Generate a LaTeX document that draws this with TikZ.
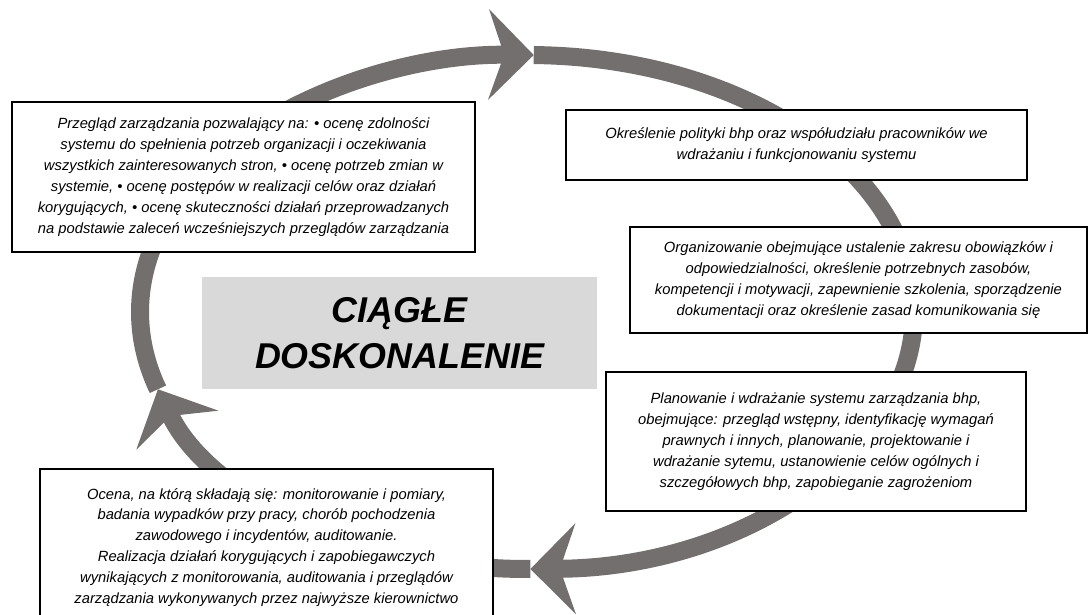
\documentclass[tikz,border=0pt]{standalone}
\usepackage{fontspec}
\setmainfont{Liberation Sans}
\usetikzlibrary{arrows.meta}
\definecolor{cyclegray}{RGB}{115, 111, 111}
\definecolor{hubgray}{RGB}{217, 217, 217}

\begin{document}
\begin{tikzpicture}[x=0.025cm, y=-0.025cm,
  cycleline/.style={draw=cyclegray, line width=12.8pt},
  cyclehead/.style={-{Stealth[length=32pt, width=64pt, inset=11pt]}},
  stagebox/.style={draw, fill=white, line width=1.6pt, align=center, inner sep=0pt,
    font=\itshape\fontsize{10.5}{14.9}\selectfont},
  hubbox/.style={fill=hubgray, align=center, inner sep=0pt,
    font=\bfseries\itshape\fontsize{25.5}{33}\selectfont}]

  \useasboundingbox (0, 0) rectangle (1088, 615);
  \clip (0, 0) rectangle (1088, 615);

  \coordinate (hub) at (527, 312);

  % the cycle, clockwise, with three heads
  \draw [cycleline, cyclehead] (hub) ++(271:387 and 257)
    arc [start angle=271, end angle=449.5, x radius=387, y radius=257];
  \draw [cycleline, cyclehead] (hub) ++(89.5:387 and 257)
    arc [start angle=89.5, end angle=162.5, x radius=387, y radius=257];
  \draw [cycleline, cyclehead] (hub) ++(162.5:387 and 257)
    arc [start angle=162.5, end angle=271, x radius=387, y radius=257];

  \node [stagebox, minimum width=11.575cm, minimum height=3.75cm] (review) at (243.5, 177)
  {Przegląd zarządzania pozwalający na: • ocenę zdolności\\
   systemu do spełnienia potrzeb organizacji i oczekiwania\\
   wszystkich zainteresowanych stron, • ocenę potrzeb zmian w\\
   systemie, • ocenę postępów w realizacji celów oraz działań\\
   korygujących, • ocenę skuteczności działań przeprowadzanych\\
   na podstawie zaleceń wcześniejszych przeglądów zarządzania};

  \node [stagebox, minimum width=11.525cm, minimum height=1.75cm] (policy) at (796.5, 145)
  {Określenie polityki bhp oraz współudziału pracowników we\\
   wdrażaniu i funkcjonowaniu systemu};

  \node [stagebox, minimum width=11.425cm, minimum height=2.65cm] (organise) at (858.5, 280)
  {Organizowanie obejmujące ustalenie zakresu obowiązków i\\
   odpowiedzialności, określenie potrzebnych zasobów,\\
   kompetencji i motywacji, zapewnienie szkolenia, sporządzenie\\
   dokumentacji oraz określenie zasad komunikowania się};

  \node [stagebox, minimum width=10.5cm, minimum height=3.475cm] (planning) at (816, 441.5)
  {Planowanie i wdrażanie systemu zarządzania bhp,\\
   obejmujące: przegląd wstępny, identyfikację wymagań\\
   prawnych i innych, planowanie, projektowanie i\\
   wdrażanie sytemu, ustanowienie celów ogólnych i\\
   szczegółowych bhp, zapobieganie zagrożeniom};

  \node [stagebox, minimum width=11.325cm, minimum height=3.925cm] (assess) at (266.5, 547.5)
  {Ocena, na którą składają się: monitorowanie i pomiary,\\
   badania wypadków przy pracy, chorób pochodzenia\\
   zawodowego i incydentów, auditowanie.\\
   Realizacja działań korygujących i zapobiegawczych\\
   wynikających z monitorowania, auditowania i przeglądów\\
   zarządzania wykonywanych przez najwyższe kierownictwo};

  \node [hubbox, minimum width=9.875cm, minimum height=2.8cm] (improve) at (399.5, 333)
  {CIĄGŁE\\DOSKONALENIE};

\end{tikzpicture}
\end{document}
